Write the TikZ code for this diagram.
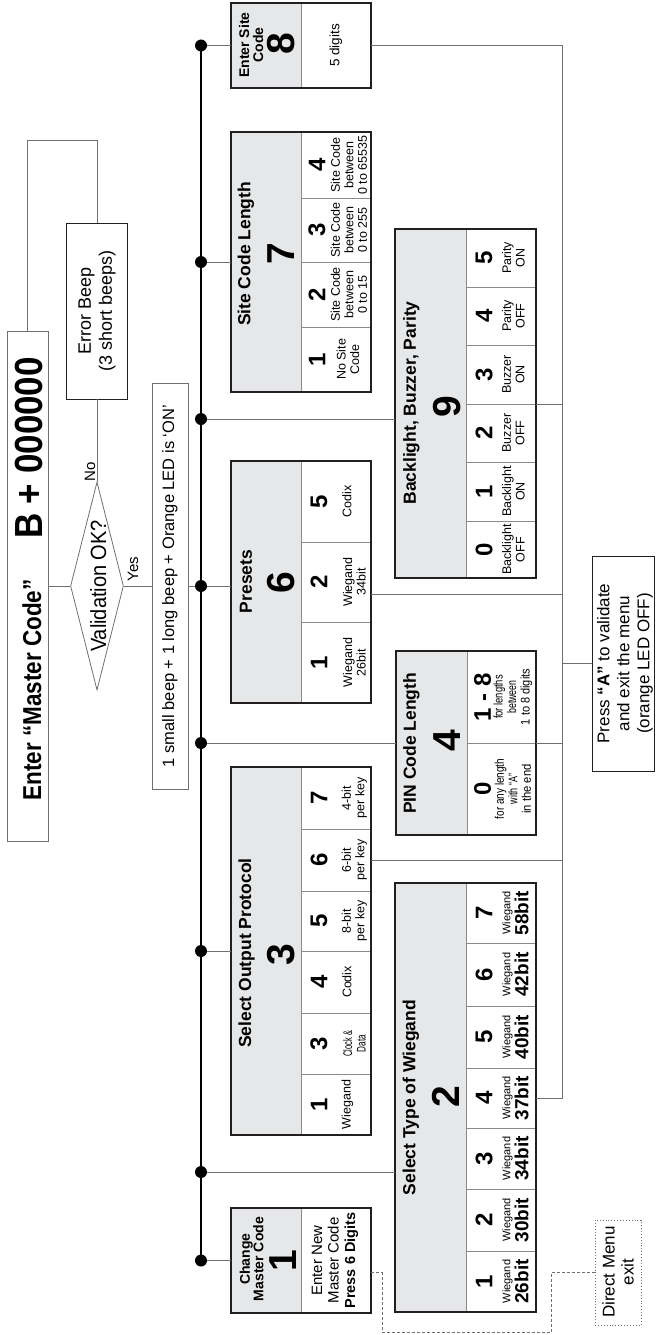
\documentclass[tikz,border=0pt]{standalone}
\usepackage{fontspec}
\setmainfont{Liberation Sans}
\usepackage{graphicx}
\usetikzlibrary{shapes.geometric}
\newcommand\fsz[2]{\fontsize{#1}{#2}\selectfont}
\newcommand\nx[2]{\scalebox{#1}[1]{#2}}
\newcommand\ny[2]{\scalebox{1}[#1]{#2}}
\definecolor{hdr}{HTML}{E6E7E8}
\definecolor{frm}{HTML}{231F20}
\definecolor{dvd}{HTML}{8A8A8A}
\definecolor{lnc}{HTML}{707070}
\newcommand\hcell[5]{\node[hbox, minimum width={#3-#2}, minimum height={#5-#4}] (#1) at ({(#2+#3)/2},{(#4+#5)/2}) {};}
\newcommand\ccell[5]{\node[cbox, minimum width={#3-#2}, minimum height={#5-#4}] (#1) at ({(#2+#3)/2},{(#4+#5)/2}) {};}
\newcommand\opt[9]{%
  \ccell{#1}{#2}{#3}{#4}{#5}
  \node[dig] (#1d) at (#7,{(#4+#5)/2}) {#6};
  \node[dsc] (#1t) at (#8,{(#4+#5)/2}) {#9};}
\newcommand\wcell[5]{%
  \ccell{#1}{466}{536}{#2}{#3}
  \node[dig] (#1d) at (484,{(#2+#3)/2}) {#4};
  \node[txt, font=\fsz{11}{12}] (#1w) at (507.5,{(#2+#3)/2}) {Wiegand};
  \node[txt, font=\bfseries\fsz{19}{20}] (#1b) at (521.5,{(#2+#3)/2}) {#5};}
\begin{document}
\begin{tikzpicture}[x=1pt,y=-1pt,
  txt/.style={rotate=90, inner sep=0pt, outer sep=0pt, align=center},
  ttl/.style={txt, font=\bfseries\fsz{17.5}{20}},
  bigd/.style={txt, font=\bfseries\fsz{39}{40}},
  dig/.style={txt, font=\bfseries\fsz{24}{24}},
  dsc/.style={txt, font=\fsz{12.5}{13.5}},
  hbox/.style={draw=dvd, line width=0.8pt, fill=hdr, inner sep=0pt, outer sep=0pt},
  cbox/.style={draw=dvd, line width=0.8pt, fill=white, inner sep=0pt, outer sep=0pt},
  plain/.style={draw=#1, line width=0.8pt, fill=white, inner sep=0pt, outer sep=0pt},
  frame/.style={draw=frm, line width=1.4pt},
  conn/.style={draw=lnc, line width=0.9pt},
  bus/.style={draw=black, line width=1.2pt},
  dotn/.style={circle, fill=black, inner sep=0pt, minimum size=12pt},
]
\fill[white] (0,0) rectangle (656,1335);
\useasboundingbox (0,0) rectangle (656,1335);

% ---- left flow
\node[plain=lnc, minimum width=41pt, minimum height=510pt] (enter) at (27.5,586) {};
\node[txt, font=\bfseries\fsz{22.5}{25}, anchor=base] (entt) at (41,690) {\ny{1.15}{Enter “Master Code”}};
\node[txt, font=\bfseries\fsz{35}{38}, anchor=base] (entb) at (42,448) {\ny{1.12}{B + 000000}};
\node[plain=frm, minimum width=61pt, minimum height=176pt] (err) at (97,311) {};
\node[txt, font=\fsz{18}{21}] (errt) at (97,311) {Error Beep\\(3 short beeps)};
\node[diamond, draw=lnc, line width=0.8pt, fill=white, minimum width=53pt, minimum height=208pt, inner sep=0pt] (val) at (97,586) {};
\node[txt, font=\fsz{20}{22}, anchor=base] (valt) at (106,586) {\ny{1.1}{Validation OK?}};
\node[txt, font=\fsz{15}{15}, anchor=base] (no) at (95,472) {No};
\node[txt, font=\fsz{15}{15}, anchor=base] (yes) at (138,569) {Yes};
\node[plain=lnc, minimum width=36pt, minimum height=406pt] (beep) at (170,586) {};
\node[txt, font=\fsz{16.5}{18}, anchor=base] (beept) at (174,586) {1 small beep + 1 long beep + Orange LED is ‘ON’};
\coordinate (lp) at (97,140);
\draw[conn] (enter.north) |- (lp) -- (err.north);
\draw[conn] (err.south) -- (val.north);
\draw[conn] (enter.east) -- (val.west);
\draw[conn] (val.east) -- (beep.west);

% ---- bus dots
\node[dotn] (b8) at (201,45.5) {};
\node[dotn] (b7) at (201,262) {};
\node[dotn] (b9) at (201,419) {};
\node[dotn] (b6) at (201,586) {};
\node[dotn] (b4) at (201,743) {};
\node[dotn] (b3) at (201,951) {};
\node[dotn] (b2) at (201,1172) {};
\node[dotn] (b1) at (201,1260.5) {};
\draw[bus] (b8.center) -- (b1.center);
\draw[conn] (beep.east) -- (b6);

% ---- box 8
\hcell{h8}{231}{301}{3}{88}
\ccell{c8}{301}{371}{3}{88}
\draw[frame] (h8.north west) rectangle (c8.south east);
\node[txt, font=\bfseries\fsz{14}{14}] (t8) at (251,45) {Enter Site\\Code};
\node[bigd] (d8) at (281,44) {8};
\node[txt, font=\fsz{13.5}{14}] (t8b) at (336,45.5) {5 digits};

% ---- box 7
\hcell{h7}{231}{301}{132}{392}
\opt{c7d}{301}{371}{132}{198}{4}{317}{349}{Site Code\\between\\0 to 65535}
\opt{c7c}{301}{371}{198}{262}{3}{317}{349}{Site Code\\between\\0 to 255}
\opt{c7b}{301}{371}{262}{327}{2}{317}{349}{Site Code\\between\\0 to 15}
\opt{c7a}{301}{371}{327}{392}{1}{317}{348}{No Site\\Code}
\draw[frame] (h7.north west) rectangle (c7a.south east);
\node[ttl] (t7) at (246,254) {Site Code Length};
\node[bigd] (d7) at (281,254) {7};

% ---- box 9
\hcell{h9}{395}{466}{229}{578}
\opt{c9e}{466}{536}{229}{287}{5}{484}{513.5}{Parity\\ON}
\opt{c9d}{466}{536}{287}{345}{4}{484}{513.5}{Parity\\OFF}
\opt{c9c}{466}{536}{345}{404}{3}{484}{513.5}{Buzzer\\ON}
\opt{c9b}{466}{536}{404}{462}{2}{484}{513.5}{Buzzer\\OFF}
\opt{c9a}{466}{536}{462}{521}{1}{484}{513.5}{Backlight\\ON}
\opt{c9z}{466}{536}{521}{578}{0}{484}{513.5}{Backlight\\OFF}
\draw[frame] (h9.north west) rectangle (c9z.south east);
\node[ttl] (t9) at (411.5,403) {Backlight, Buzzer, Parity};
\node[bigd] (d9) at (447.5,407) {9};

% ---- box 6
\hcell{h6}{231}{301}{461}{703}
\opt{c6c}{301}{371}{461}{542}{5}{319}{347}{Codix}
\opt{c6b}{301}{371}{542}{622}{2}{319}{354.5}{Wiegand\\34bit}
\opt{c6a}{301}{371}{622}{703}{1}{319}{354.5}{Wiegand\\26bit}
\draw[frame] (h6.north west) rectangle (c6a.south east);
\node[ttl] (t6) at (246,581.5) {Presets};
\node[bigd] (d6) at (281.5,583) {6};

% ---- box 4
\hcell{h4}{396}{467}{651}{835}
\opt{c4b}{467}{536}{651}{743}{1 - 8}{482.5}{513}{\nx{0.75}{for lengths}\\\nx{0.7}{between}\\\nx{0.88}{1 to 8 digits}}
\opt{c4a}{467}{536}{743}{835}{0}{482.5}{513}{\nx{0.8}{for any length}\\\nx{0.72}{with “A”}\\\nx{0.9}{in the end}}
\draw[frame] (h4.north west) rectangle (c4a.south east);
\node[ttl] (t4) at (411.5,743.5) {PIN Code Length};
\node[bigd] (d4) at (447.5,741) {4};

% ---- box 3
\hcell{h3}{231}{301}{767}{1135}
\opt{c3g}{301}{371}{767}{829}{7}{319}{354.5}{4-bit\\per key}
\opt{c3f}{301}{371}{829}{891}{6}{319}{354.5}{6-bit\\per key}
\opt{c3e}{301}{371}{891}{951}{5}{319}{354.5}{8-bit\\per key}
\opt{c3d}{301}{371}{951}{1013}{4}{319}{347}{Codix}
\opt{c3c}{301}{371}{1013}{1074}{3}{319}{354.5}{\nx{0.6}{Clock \&}\\\nx{0.65}{Data}}
\opt{c3a}{301}{371}{1074}{1135}{1}{319}{347.5}{Wiegand}
\draw[frame] (h3.north west) rectangle (c3a.south east);
\node[ttl] (t3) at (246.5,953) {Select Output Protocol};
\node[bigd] (d3) at (281.5,955) {3};

% ---- box 2
\hcell{h2}{395}{466}{883}{1312}
\wcell{c2g}{883}{943}{7}{58bit}
\wcell{c2f}{943}{1006}{6}{42bit}
\wcell{c2e}{1006}{1068}{5}{40bit}
\wcell{c2d}{1068}{1128}{4}{37bit}
\wcell{c2c}{1128}{1189}{3}{34bit}
\wcell{c2b}{1189}{1251}{2}{30bit}
\wcell{c2a}{1251}{1312}{1}{26bit}
\draw[frame] (h2.north west) rectangle (c2a.south east);
\node[ttl] (t2) at (411,1097.5) {Select Type of Wiegand};
\node[bigd] (d2) at (445.5,1097) {2};

% ---- box 1
\hcell{h1}{231}{301}{1208}{1313}
\ccell{c1}{301}{371}{1208}{1313}
\draw[frame] (h1.north west) rectangle (c1.south east);
\node[txt, font=\bfseries\fsz{14}{13.5}] (t1) at (251.5,1259) {Change\\Master Code};
\node[bigd] (d1) at (283,1261) {1};
\node[txt, font=\fsz{15}{16.5}] (t1b) at (335,1260.5) {Enter New\\Master Code\\{\bfseries\fsz{14.5}{16.5}Press 6 Digits}};

% ---- bus connectors
\draw[conn] (b8) -- (h8.west);
\draw[conn] (b7) -- (h7.west);
\draw[conn] (b9) -- (b9 -| h9.west);
\draw[conn] (b6) -- (b6 -| h6.west);
\draw[conn] (b4) -- (h4.west);
\draw[conn] (b3) -- (h3.west);
\draw[conn] (b2) -- (b2 -| h2.west);
\draw[conn] (b1) -- (h1.west);

% ---- right side
\node[plain=frm, minimum width=62pt, minimum height=215pt] (pressA) at (623,663.5) {};
\node[txt, font=\fsz{17}{20}] (pressAt) at (625,663.5) {Press {\bfseries “A”} to validate\\and exit the menu\\(orange LED OFF)};
\coordinate (rb) at (562,1098);
\coordinate (r6) at (562,594);
\draw[conn] (c8.east) -| (rb) -- (c2d.east);
\draw[conn] (c9b.north east) -- (c9b.north east -| rb);
\draw[conn] (r6 -| c6b.east) -- (r6);
\draw[conn] (c4b.south east) -- (c4b.south east -| rb);
\draw[conn] (c3f.east) -- (c3f.east -| rb);
\draw[conn] (pressA.west) -- (pressA.west -| rb);

% ---- direct menu exit
\node[draw=lnc, dotted, line width=0.9pt, minimum width=46pt, minimum height=105pt, inner sep=0pt] (dme) at (618,1272.5) {};
\node[txt, font=\fsz{17}{19}] (dmet) at (618,1272) {Direct Menu\\exit};
\coordinate (da) at (382,1332);
\coordinate (db) at (551,1332);
\draw[conn, dash pattern=on 3pt off 2pt] (c1.east |- dme.west) -| (da) -- (db) |- (dme.west);
\end{tikzpicture}
\end{document}
